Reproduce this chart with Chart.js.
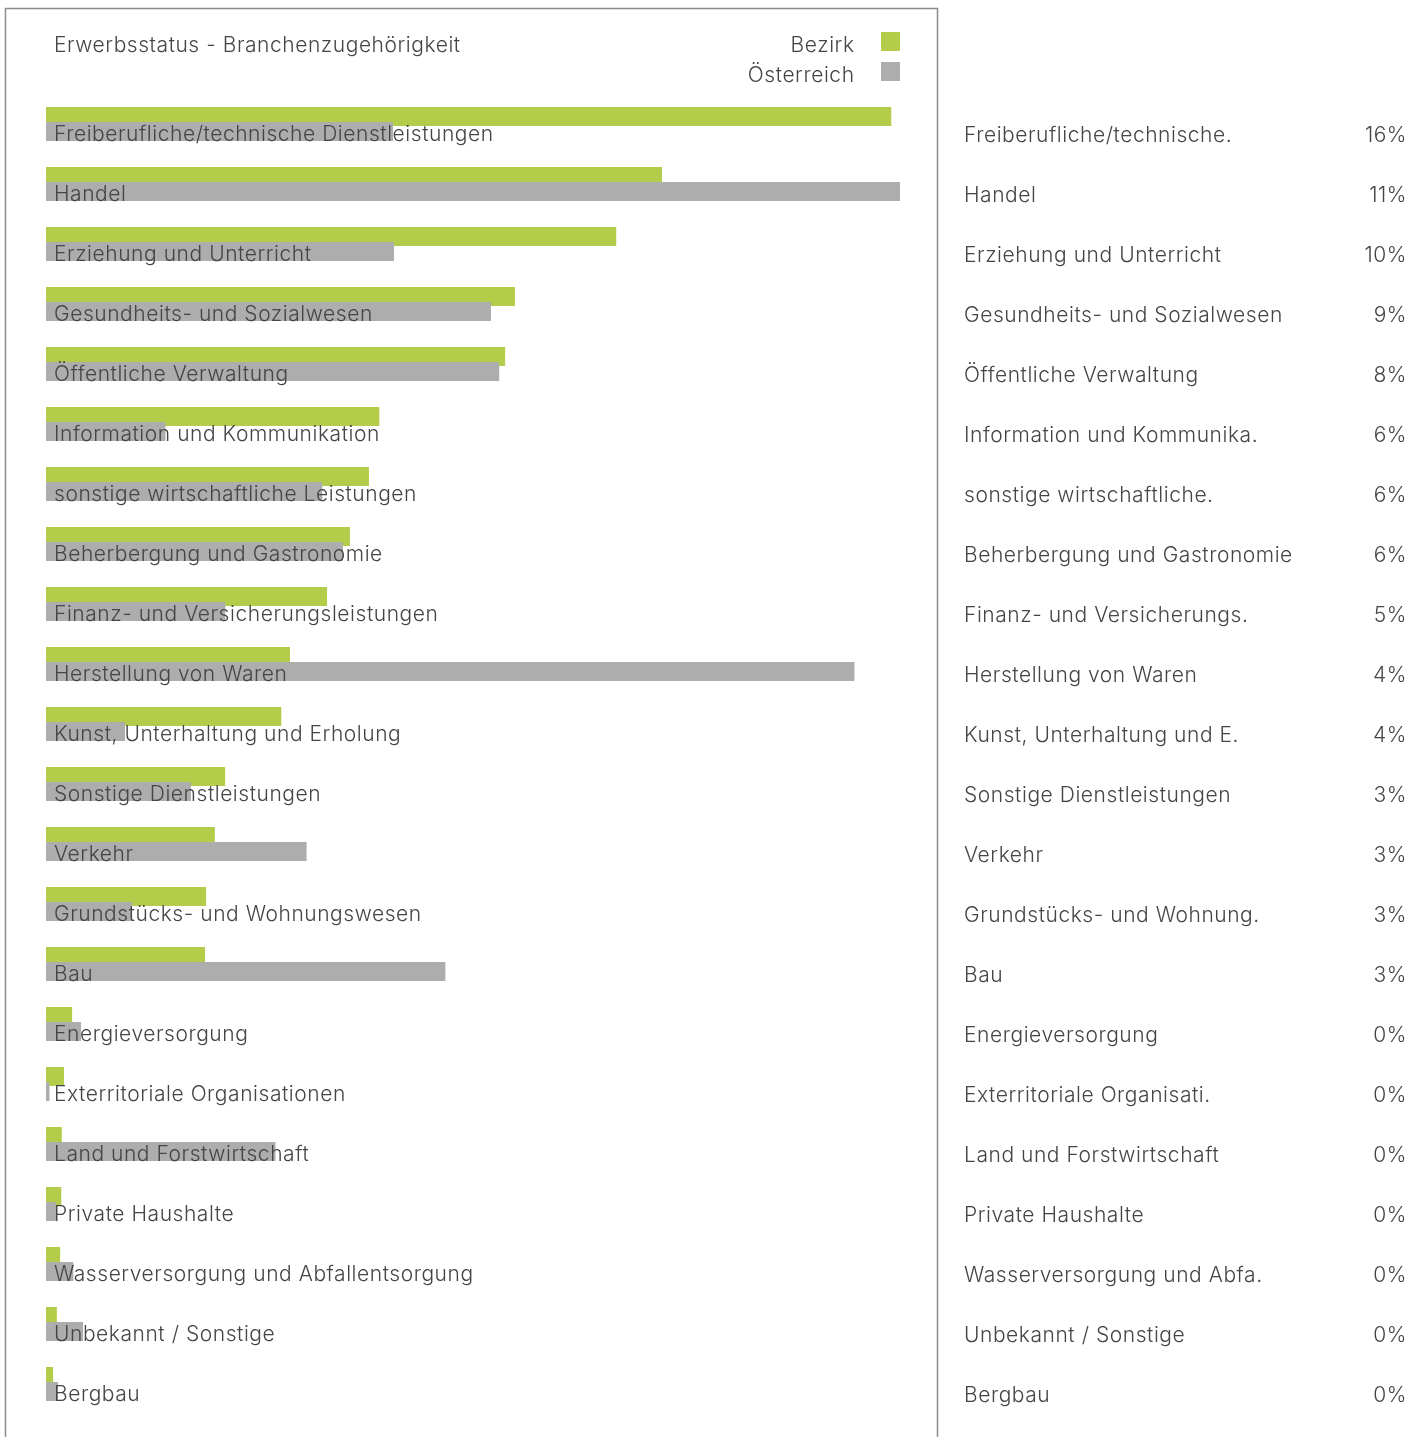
<!DOCTYPE html>
<html lang="de">
<head>
<meta charset="utf-8">
<title>Erwerbsstatus - Branchenzugehörigkeit</title>
<script src="https://cdn.jsdelivr.net/npm/chart.js@4/dist/chart.umd.min.js"></script>
<style>
  html, body { margin: 0; padding: 0; background: #fff; }
  canvas { display: block; }
</style>
</head>
<body>
<canvas id="branchenChart" width="1424" height="1437"></canvas>
<script>
const chartTitle = 'Erwerbsstatus - Branchenzugehörigkeit';

const branchen = [
    'Freiberufliche/technische Dienstleistungen',
    'Handel',
    'Erziehung und Unterricht',
    'Gesundheits- und Sozialwesen',
    'Öffentliche Verwaltung',
    'Information und Kommunikation',
    'sonstige wirtschaftliche Leistungen',
    'Beherbergung und Gastronomie',
    'Finanz- und Versicherungsleistungen',
    'Herstellung von Waren',
    'Kunst, Unterhaltung und Erholung',
    'Sonstige Dienstleistungen',
    'Verkehr',
    'Grundstücks- und Wohnungswesen',
    'Bau',
    'Energieversorgung',
    'Exterritoriale Organisationen',
    'Land und Forstwirtschaft',
    'Private Haushalte',
    'Wasserversorgung und Abfallentsorgung',
    'Unbekannt / Sonstige',
    'Bergbau'
];

// gekürzte Namen für die Tabelle rechts
const branchenKurz = [
    'Freiberufliche/technische.',
    'Handel',
    'Erziehung und Unterricht',
    'Gesundheits- und Sozialwesen',
    'Öffentliche Verwaltung',
    'Information und Kommunika.',
    'sonstige wirtschaftliche.',
    'Beherbergung und Gastronomie',
    'Finanz- und Versicherungs.',
    'Herstellung von Waren',
    'Kunst, Unterhaltung und E.',
    'Sonstige Dienstleistungen',
    'Verkehr',
    'Grundstücks- und Wohnung.',
    'Bau',
    'Energieversorgung',
    'Exterritoriale Organisati.',
    'Land und Forstwirtschaft',
    'Private Haushalte',
    'Wasserversorgung und Abfa.',
    'Unbekannt / Sonstige',
    'Bergbau'
];

const bezirk = [15.52, 11.31, 10.47, 8.61, 8.43, 6.12, 5.93, 5.58, 5.16, 4.48, 4.32,
    3.29, 3.10, 2.94, 2.92, 0.48, 0.33, 0.29, 0.28, 0.26, 0.20, 0.13];
const oesterreich = [6.37, 15.68, 6.39, 8.17, 8.32, 2.19, 5.07, 5.45, 3.29, 14.84, 1.45,
    2.66, 4.78, 1.58, 7.33, 0.64, 0.06, 4.21, 0.18, 0.50, 0.68, 0.22];

const seriesNames = ['Bezirk', 'Österreich'];
const GREEN = '#b3cd4b';
const GREY = '#adadad';
const TEXT = '#454545';
const FONT = '300 21px Inter, "Open Sans", sans-serif';
const SPACING = 0.55;

const overlayPlugin = {
    id: 'overlay',
    afterDatasetsDraw(chart) {
        const ctx = chart.ctx;
        // Österreich-Balken liegen über den grünen
        chart.getDatasetMeta(1).controller.draw();

        const y = chart.scales.y;
        ctx.save();
        ctx.font = FONT;
        ctx.letterSpacing = SPACING + 'px';
        ctx.fillStyle = TEXT;
        ctx.textBaseline = 'alphabetic';

        branchen.forEach((name, i) => {
            const cy = y.getPixelForValue(i);
            ctx.textAlign = 'left';
            ctx.fillText(name, 54, cy + 17);
            ctx.fillText(branchenKurz[i], 964, cy + 17.5);
            ctx.textAlign = 'right';
            ctx.fillText(Math.round(bezirk[i]) + '%', 1406 + SPACING * 2, cy + 17.5);
        });

        // Titel
        ctx.textAlign = 'left';
        ctx.fillText(chartTitle, 54, 52);

        // Legende
        const colors = [GREEN, GREY];
        seriesNames.forEach((s, i) => {
            ctx.fillStyle = TEXT;
            ctx.textAlign = 'right';
            ctx.fillText(s, 854 + SPACING, 52 + i * 30);
            ctx.fillStyle = colors[i];
            ctx.fillRect(881, 32 + i * 30, 19, 19);
        });

        // Rahmen
        ctx.strokeStyle = '#8c8c8c';
        ctx.lineWidth = 1.5;
        ctx.beginPath();
        ctx.moveTo(5.5, 1437);
        ctx.lineTo(5.5, 8.5);
        ctx.lineTo(937.5, 8.5);
        ctx.lineTo(937.5, 1437);
        ctx.stroke();
        ctx.restore();
    }
};

const ctx = document.getElementById('branchenChart').getContext('2d');
new Chart(ctx, {
    type: 'bar',
    data: {
        labels: branchen,
        datasets: [
            {
                label: seriesNames[0],
                data: bezirk,
                backgroundColor: GREEN
            },
            {
                label: seriesNames[1],
                data: oesterreich,
                backgroundColor: GREY
            }
        ]
    },
    options: {
        indexAxis: 'y',
        responsive: false,
        animation: false,
        devicePixelRatio: 1,
        categoryPercentage: 0.5,
        barPercentage: 19 / 15,
        layout: {
            padding: { left: 46, right: 524, top: 94, bottom: 23 }
        },
        plugins: {
            legend: { display: false },
            title: { display: false },
            tooltip: { enabled: false }
        },
        scales: {
            x: {
                display: false,
                min: 0,
                max: Math.max(...bezirk, ...oesterreich)
            },
            y: {
                display: false
            }
        }
    },
    plugins: [overlayPlugin]
});
</script>
</body>
</html>
